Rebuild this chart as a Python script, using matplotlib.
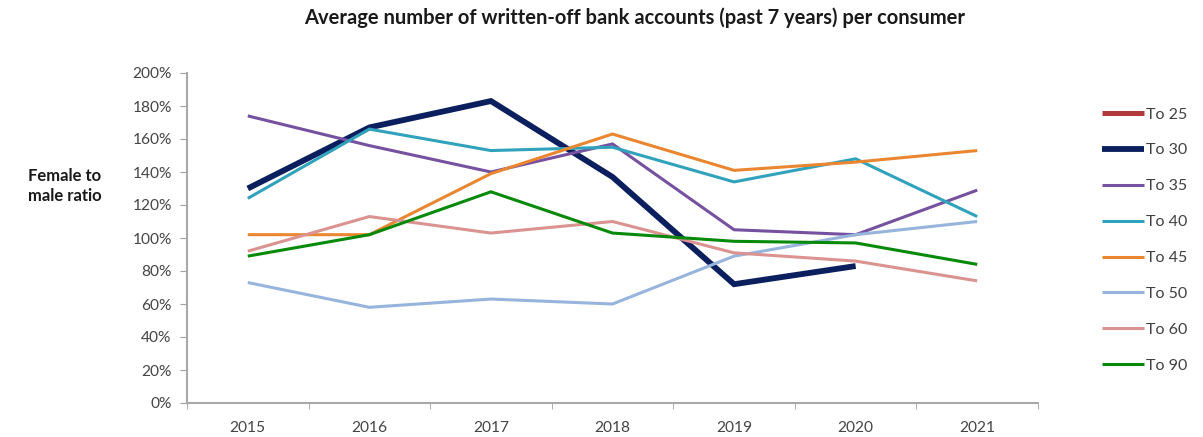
import matplotlib
matplotlib.use("Agg")
import matplotlib.pyplot as plt
import numpy as np

plt.rcParams['font.family'] = ['Lato', 'DejaVu Sans']

years = ["2015", "2016", "2017", "2018", "2019", "2020", "2021"]
nan = np.nan

# female to male ratio, in percent
to_25 = [nan, nan, nan, nan, nan, nan, nan]
to_30 = [130, 167, 183, 137, 72, 83, nan]
to_35 = [174, 156, 140, 157, 105, 102, 129]
to_40 = [124, 166, 153, 155, 134, 148, 113]
to_45 = [102, 102, 139, 163, 141, 146, 153]
to_50 = [73, 58, 63, 60, 89, 102, 110]
to_60 = [92, 113, 103, 110, 91, 86, 74]
to_90 = [89, 102, 128, 103, 98, 97, 84]

series = [
    ("To 25", to_25, "#B23A3A", 3.6),
    ("To 30", to_30, "#0B1F5E", 4.2),
    ("To 35", to_35, "#7551A0", 2.2),
    ("To 40", to_40, "#31A2BC", 2.2),
    ("To 45", to_45, "#EA8630", 2.2),
    ("To 50", to_50, "#97B4DC", 2.2),
    ("To 60", to_60, "#DA9391", 2.2),
    ("To 90", to_90, "#078A0A", 2.2),
]

fig = plt.figure(figsize=(12.03, 4.37), dpi=100)
ax = fig.add_axes([187 / 1203, 1 - 403 / 437, (1038 - 187) / 1203, 330 / 437])

x = np.arange(len(years))
for name, vals, col, lw in series:
    ax.plot(x, np.array(vals, dtype=float) / 100, color=col, lw=lw, label=name,
            solid_joinstyle="miter", solid_capstyle="butt")

ax.set_ylim(0, 2)
ax.set_xlim(-0.5, len(years) - 0.5)
ax.set_yticks(np.arange(0, 2.01, 0.2))
ax.set_yticklabels([f"{int(round(v * 100))}%" for v in np.arange(0, 2.01, 0.2)])
ax.set_xticks(x)
ax.set_xticklabels(years)
ax.set_xticks(np.arange(-0.5, len(years), 1), minor=True)
ax.tick_params(axis="x", which="major", length=0, pad=13)
ax.tick_params(axis="x", which="minor", length=4, color="#A0A0A0", direction="out")
ax.tick_params(axis="y", length=5, color="#A0A0A0", pad=6)
ax.tick_params(labelsize=11.2, labelcolor="#454545")

for s in ["top", "right"]:
    ax.spines[s].set_visible(False)
for s in ["left", "bottom"]:
    ax.spines[s].set_color("#A8A8A8")
    ax.spines[s].set_linewidth(1.5)

fig.text(635 / 1203, 1 - 18 / 437, "Average number of written-off bank accounts (past 7 years) per consumer",
         ha="center", va="center", fontsize=14.5, fontweight="bold", color="#1A1A1A")
fig.text(65 / 1203, 1 - 186 / 437, "Female to\nmale ratio", ha="center", va="center",
         fontsize=12, fontweight="bold", color="#1A1A1A", linespacing=1.3)

fig.legend(loc="upper left", bbox_to_anchor=(1088 / 1203, 1 - 93 / 437), frameon=False,
           handlelength=2.6, handletextpad=0.1, labelspacing=1.36, fontsize=11.5,
           labelcolor="#404040")

fig.savefig("out.png", dpi=100)
